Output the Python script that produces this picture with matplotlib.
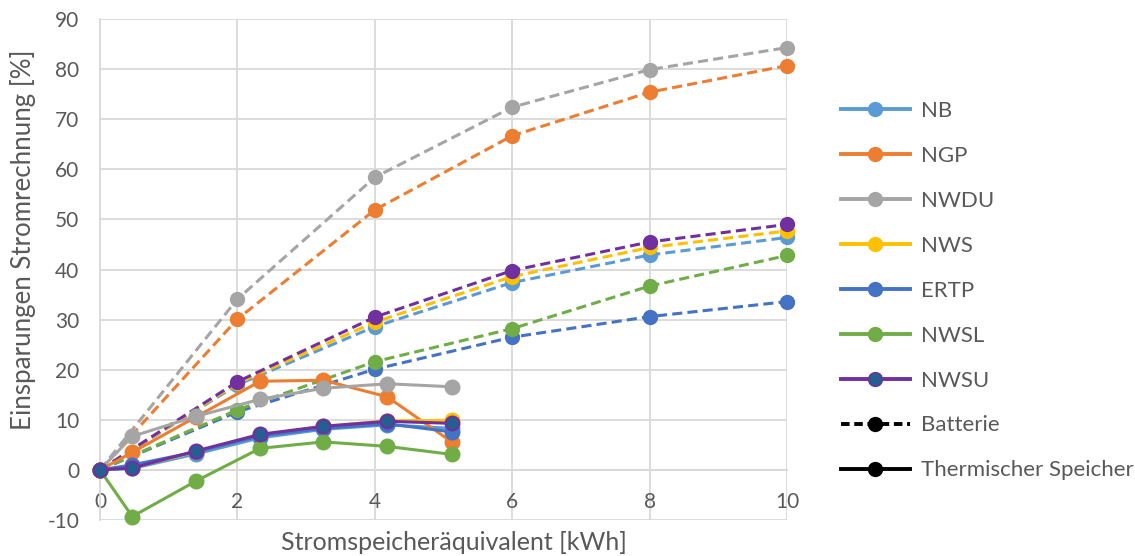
import matplotlib.pyplot as plt
from matplotlib.lines import Line2D

# series names and colours
names = ["NB", "NGP", "NWDU", "NWS", "ERTP", "NWSL", "NWSU"]
colors = ["#5B9BD5", "#ED7D31", "#A5A5A5", "#FFC000", "#4472C4", "#70AD47", "#7030A0"]

# Batterie (dashed)
bat_x = [0, 2, 4, 6, 8, 10]
bat_nb = [0, 17.0, 28.6, 37.4, 42.9, 46.4]
bat_ngp = [0, 30.1, 51.9, 66.7, 75.4, 80.7]
bat_nwdu = [0, 34.1, 58.4, 72.4, 79.9, 84.3]
bat_nws = [0, 17.3, 29.5, 38.6, 44.4, 47.7]
bat_ertp = [0, 11.6, 20.1, 26.5, 30.6, 33.6]
bat_nwsl = [0, 12.0, 21.6, 28.2, 36.7, 42.8]
bat_nwsu = [0, 17.6, 30.5, 39.8, 45.5, 49.0]

# Thermischer Speicher (solid)
th_x = [0, 0.47, 1.4, 2.33, 3.25, 4.18, 5.12]
th_nb = [0, 0.3, 3.2, 6.4, 8.1, 9.0, 8.3]
th_ngp = [0, 3.5, 10.6, 17.7, 17.9, 14.6, 5.6]
th_nwdu = [0, 6.7, 10.7, 14.1, 16.3, 17.2, 16.6]
th_nws = [0, 0.5, 3.6, 7.0, 8.7, 9.8, 9.9]
th_ertp = [0, 1.0, 3.6, 6.8, 8.3, 9.2, 7.6]
th_nwsl = [0, -9.3, -2.2, 4.3, 5.6, 4.7, 3.1]
th_nwsu = [0, 0.4, 3.8, 7.1, 8.7, 9.7, 9.3]

bat_all = [bat_nb, bat_ngp, bat_nwdu, bat_nws, bat_ertp, bat_nwsl, bat_nwsu]
th_all = [th_nb, th_ngp, th_nwdu, th_nws, th_ertp, th_nwsl, th_nwsu]

x_ticks = [0, 2, 4, 6, 8, 10]
y_ticks = list(range(-10, 91, 10))

plt.rcParams['font.family'] = ['Lato', 'DejaVu Sans']
plt.rcParams['axes.unicode_minus'] = False
txt = "#595959"
grid_c = "#D9D9D9"

fig = plt.figure(figsize=(11.35, 5.56), dpi=100)
ax = fig.add_axes([0.0881, 0.0647, 0.6053, 0.9011])

lw = 2.2
ms = 10
for ys, c in zip(bat_all, colors):
    ax.plot(bat_x, ys, color=c, lw=lw, dashes=(3.3, 1.7), marker="o", ms=ms,
            markerfacecolor=c, markeredgecolor=c, zorder=3, clip_on=False)
for name, ys, c in zip(names, th_all, colors):
    fc = "#255E91" if name == "NWSU" else c
    ax.plot(th_x, ys, color=c, lw=lw, marker="o", ms=ms, clip_on=False,
            markerfacecolor=fc, markeredgecolor=c, markeredgewidth=1.5, zorder=4)

ax.set_xlim(0, 10)
ax.set_ylim(-10, 90)
ax.set_xticks(x_ticks)
ax.set_yticks(y_ticks)
ax.grid(True, color=grid_c, lw=1.3, zorder=0)
ax.set_axisbelow(True)
for s in ["top", "right"]:
    ax.spines[s].set_visible(False)
ax.spines["left"].set_color(grid_c)
ax.spines["left"].set_linewidth(1.3)
ax.spines["bottom"].set_position(("data", 0))
ax.spines["bottom"].set_color(grid_c)
ax.spines["bottom"].set_linewidth(1.3)
ax.tick_params(axis="both", length=0, labelsize=15, labelcolor=txt)
ax.tick_params(axis="y", pad=15)
ax.tick_params(axis="x", pad=16)

fig.text(0.4, 0.025, "Stromspeicheräquivalent [kWh]", ha="center", va="center",
         fontsize=18, color=txt)
fig.text(0.02, 0.568, "Einsparungen Stromrechnung [%]", ha="center", va="center",
         rotation=90, fontsize=18.6, color=txt)

handles = []
for name, c in zip(names, colors):
    fc = "#255E91" if name == "NWSU" else c
    handles.append(Line2D([], [], color=c, lw=lw + 0.6, marker="o", ms=ms,
                          markerfacecolor=fc, markeredgecolor=c))
handles.append(Line2D([], [], color="black", lw=lw + 0.6, dashes=(2.2, 1.2),
                      marker="o", ms=ms))
handles.append(Line2D([], [], color="black", lw=lw + 0.6, marker="o", ms=ms))
labels = names + ["Batterie", "Thermischer Speicher"]
fig.legend(handles, labels, loc="upper left", bbox_to_anchor=(0.741, 0.818),
           frameon=False, fontsize=16, labelcolor=txt, handlelength=3.1,
           handletextpad=0.5, labelspacing=1.12, borderpad=0, borderaxespad=0)

fig.savefig("out.png", dpi=100)
